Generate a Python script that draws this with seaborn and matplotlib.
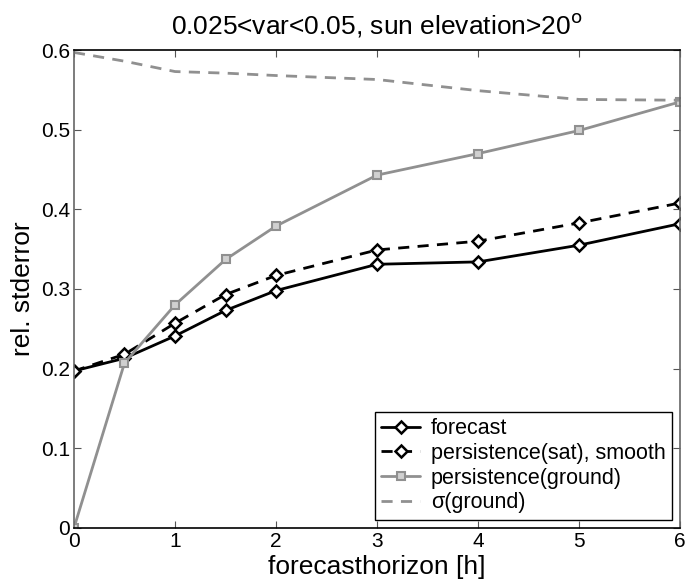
import pandas as pd
import seaborn as sns
import matplotlib
matplotlib.use("Agg")
import matplotlib.pyplot as plt
from matplotlib.ticker import FuncFormatter

# values
horizon = [0, 0.5, 1, 1.5, 2, 3, 4, 5, 6]
forecast = [0.197, 0.213, 0.241, 0.273, 0.298, 0.331, 0.334, 0.355, 0.382]
persist_sat = [0.197, 0.218, 0.257, 0.293, 0.317, 0.349, 0.360, 0.383, 0.408]
persist_ground = [0.0, 0.207, 0.280, 0.337, 0.379, 0.443, 0.470, 0.499, 0.535]
sigma_ground = [0.597, 0.586, 0.573, 0.571, 0.568, 0.563, 0.549, 0.538, 0.537]

sns.set_style("ticks")
plt.rcParams['font.family'] = ['Liberation Sans', 'DejaVu Sans']
plt.rcParams['text.color'] = 'black'
plt.rcParams['axes.labelcolor'] = 'black'

fig = plt.figure(figsize=(6.85, 5.82), dpi=100)
ax = fig.add_axes([0.108, 0.093, 0.885, 0.821])

# forecast
sns.lineplot(x=horizon, y=forecast, ax=ax, color='black', lw=2,
             marker='D', markersize=6, markerfacecolor='white',
             markeredgecolor='black', markeredgewidth=1.8, label='forecast')
# persistence(sat), smooth
sns.lineplot(x=horizon, y=persist_sat, ax=ax, color='black', lw=2,
             linestyle=(0, (4, 3)), marker='D', markersize=6,
             markerfacecolor='white', markeredgecolor='black',
             markeredgewidth=1.8, label='persistence(sat), smooth')
# persistence(ground)
sns.lineplot(x=horizon, y=persist_ground, ax=ax, color='#909090', lw=2,
             marker='s', markersize=6, markerfacecolor='#d0d0d0',
             markeredgecolor='#909090', markeredgewidth=1.5,
             label='persistence(ground)')
# sigma(ground)
sns.lineplot(x=horizon, y=sigma_ground, ax=ax, color='#909090', lw=2,
             linestyle=(0, (4, 3)), label='σ(ground)')

ax.set_xlim(0, 6)
ax.set_ylim(0, 0.6)
ax.set_xticks(range(0, 7))
ax.set_yticks([0, 0.1, 0.2, 0.3, 0.4, 0.5, 0.6])
ax.yaxis.set_major_formatter(FuncFormatter(lambda v, p: '0' if v == 0 else f'{v:.1f}'))
ax.tick_params(direction='in', top=True, right=True, labelsize=15, length=5,
               color='#555555', labelcolor='black', pad=3)

for side in ['top', 'bottom']:
    ax.spines[side].set_color('black')
for side in ['left', 'right']:
    ax.spines[side].set_color('#666666')
for s in ax.spines.values():
    s.set_linewidth(1.2)

ax.set_xlabel('forecasthorizon [h]', fontsize=19, labelpad=3)
ax.set_ylabel('rel. stderror', fontsize=19, labelpad=4)
ax.set_title(r'0.025<var<0.05, sun elevation>20$^{\rm o}$', fontsize=19, pad=12)

leg = ax.legend(loc='lower right', fontsize=15.5, frameon=True, fancybox=False,
                edgecolor='black', handlelength=1.8, borderpad=0.3,
                labelspacing=0.17, handletextpad=0.5, borderaxespad=0.38)
leg.get_frame().set_linewidth(1.0)
leg.get_frame().set_alpha(1)

plt.savefig('out.png', dpi=100)
